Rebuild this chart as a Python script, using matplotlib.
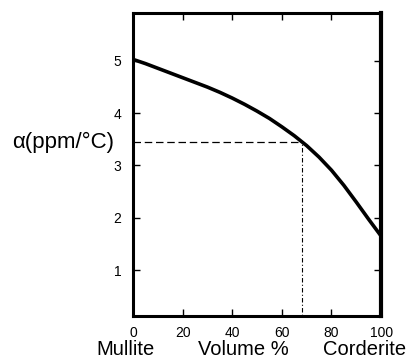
import matplotlib
matplotlib.use("Agg")
import matplotlib.pyplot as plt
from matplotlib.transforms import blended_transform_factory

plt.rcParams['font.family'] = ['Liberation Sans', 'DejaVu Sans']

vol = [0, 5, 10, 15, 20, 25, 30, 35, 40, 45, 50, 55, 60, 65, 70, 75, 80, 85, 90, 95, 100]
alpha = [5.03, 4.95, 4.86, 4.77, 4.68, 4.59, 4.50, 4.40, 4.29, 4.17, 4.04, 3.90,
         3.74, 3.57, 3.38, 3.16, 2.91, 2.62, 2.30, 1.97, 1.65]
mark_x = 68
mark_y = 3.45
xticks = [0, 20, 40, 60, 80, 100]
yticks = [1, 2, 3, 4, 5]

fig = plt.figure(figsize=(4.08, 3.63), dpi=100)
ax = fig.add_axes([0.326, 0.1295, 0.608, 0.835])
ax.plot(vol, alpha, color='black', lw=2.6, solid_capstyle='butt', solid_joinstyle='round')
ax.plot([0, mark_x], [mark_y, mark_y], color='black', lw=0.9, ls=(0, (6, 3)))
ax.plot([mark_x, mark_x], [0, mark_y], color='black', lw=0.8, ls=(0, (4, 2, 1, 2)))

ax.set_xlim(0, 100)
ax.set_ylim(0.12, 5.92)
ax.set_xticks(xticks)
ax.set_yticks(yticks)
ax.set_xticklabels([str(v) for v in xticks], fontsize=10)
ax.set_yticklabels([str(v) for v in yticks], fontsize=10)
ax.tick_params(direction='in', length=5, width=1, top=True, right=True)
ax.tick_params(axis='y', pad=8.5)
ax.tick_params(axis='x', pad=7.5)
for s in ax.spines.values():
    s.set_linewidth(2.2)
ax.spines['right'].set_linewidth(3)

tr = blended_transform_factory(fig.transFigure, ax.transData)
ax.text(63 / 408, mark_y, 'α(ppm/°C)', transform=tr, fontsize=16,
        ha='center', va='center')
by = 1 - 355 / 363
fig.text(126 / 408, by, 'Mullite', fontsize=14.5, ha='center', va='baseline')
fig.text(243 / 408, by, 'Volume %', fontsize=14.5, ha='center', va='baseline')
fig.text(365 / 408, by, 'Corderite', fontsize=14.5, ha='center', va='baseline')

fig.savefig('out.png', dpi=100)
